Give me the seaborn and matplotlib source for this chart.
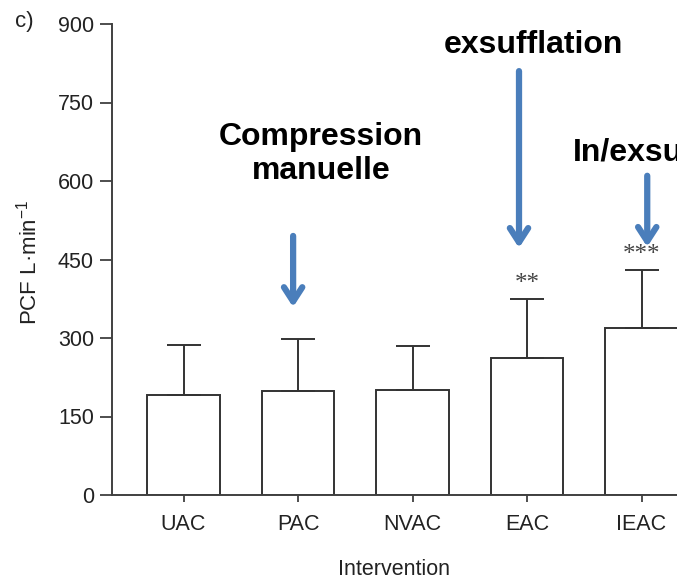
import matplotlib
matplotlib.use("Agg")
import matplotlib.pyplot as plt
import seaborn as sns
import numpy as np
import pandas as pd

categories = ["UAC", "PAC", "NVAC", "EAC", "IEAC"]
means = [191, 198, 201, 262, 320]
sds = [96, 101, 84, 113, 110]
stars = ["", "", "", "**", "***"]
yticks = [0, 150, 300, 450, 600, 750, 900]

sns.set_theme(style="white")
plt.rcParams['font.family'] = ['Liberation Sans', 'DejaVu Sans']

W, H = 677, 580
fig = plt.figure(figsize=(W / 100, H / 100), dpi=100)
ax = fig.add_axes([112 / W, (H - 495) / H, (W - 112) / W, (495 - 24) / H])

df = pd.DataFrame({"Intervention": categories, "PCF": means})
sns.barplot(data=df, x="Intervention", y="PCF", ax=ax, color="white",
            edgecolor="#333333", linewidth=1.4, width=0.63, errorbar=None)
ax.errorbar(np.arange(len(categories)), means, yerr=[np.zeros(len(sds)), sds],
            fmt="none", ecolor="#333333", elinewidth=1.4, capsize=12.5, capthick=1.4)

edge = "#404040"
ax.set_xlim(-0.625, 4.31)
ax.set_ylim(0, 900)
ax.set_yticks(yticks)
for s in ["top", "right"]:
    ax.spines[s].set_visible(False)
for s in ["left", "bottom"]:
    ax.spines[s].set_color(edge)
    ax.spines[s].set_linewidth(1.4)
ax.tick_params(axis="y", direction="out", length=9, width=1.3, color=edge,
               labelsize=15.5, labelcolor="#222222", pad=4, left=True)
ax.tick_params(axis="x", direction="out", length=5, width=1.3, color=edge,
               labelsize=15.5, labelcolor="#222222", pad=9, bottom=True)

ax.set_xlabel("Intervention", fontsize=15.5, color="#222222", labelpad=17)
ax.set_ylabel("PCF L·min$^{\\mathregular{-1}}$", fontsize=16, color="#222222")
ax.yaxis.set_label_coords(-0.125, 0.495)

fig.text(15 / W, 1 - 22 / H, "c)", fontsize=16, color="#222222", va="center", ha="left")

for i, s in enumerate(stars):
    if s:
        ax.text(i, means[i] + sds[i] + 28, s, ha="center", va="center",
                fontsize=18, color="#444444", family="Liberation Serif")

blue = "#4A7EBB"
arrows = [(0.957, 495, 359), (2.93, 810, 472), (4.05, 610, 474)]
for x, y0, y1 in arrows:
    ax.annotate("", xy=(x, y1), xytext=(x, y0), xycoords="data",
                arrowprops=dict(arrowstyle="->,head_length=0.85,head_width=0.55",
                                color=blue, lw=4.5, shrinkA=0, shrinkB=0),
                annotation_clip=False)

ann_font = dict(fontsize=23, fontweight="bold", color="black", family="Liberation Sans")
ax.text(1.20, 652, "Compression\nmanuelle", ha="center", va="center",
        linespacing=1.15, clip_on=False, **ann_font)
ax.text(3.055, 860, "exsufflation", ha="center", va="center", clip_on=False, **ann_font)
ax.text(3.40, 655, "In/exsufflation", ha="left", va="center", clip_on=False, **ann_font)

fig.savefig("out.png", dpi=100)
